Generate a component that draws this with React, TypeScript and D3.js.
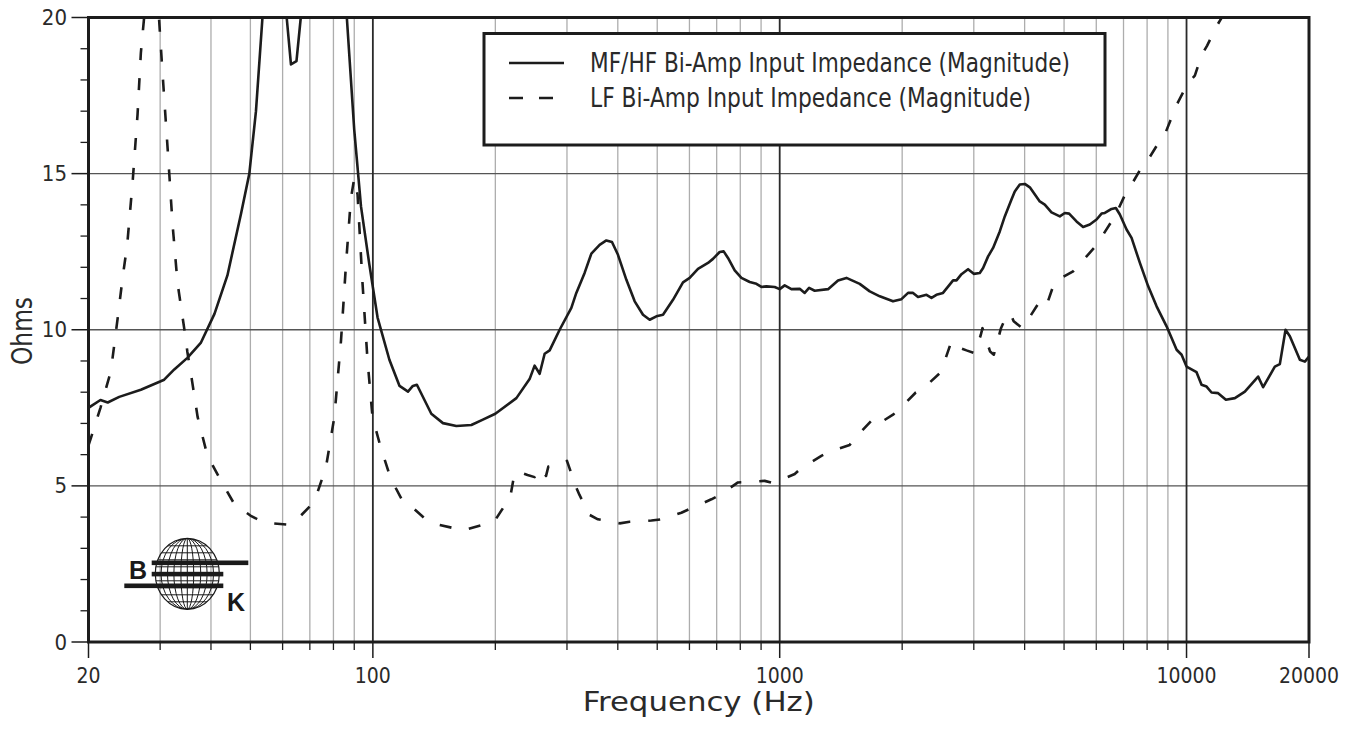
import React from "react";
import * as d3 from "d3";

// ---------- data ----------
const MF_FREQ = [20, 21.4, 22.3, 23.8, 26.9, 30.7, 32.5, 35.0, 37.8, 40.8, 43.9, 47.4, 49.7, 51.6, 53.6, 56, 59, 61.4, 62.9, 64.9, 66.5, 70, 80, 84, 86.3, 90.0, 93.5, 98.0, 102.7, 109.8, 116.3, 122.0, 125.4, 128.3, 139.2, 148.7, 160.4, 174.6, 186.4, 200, 225.3, 242.8, 249.8, 257.0, 264.4, 272.0, 287.8, 307.5, 316.3, 331.5, 344.4, 360.9, 374.9, 387.0, 400.4, 419.9, 440.1, 461.3, 479.1, 497.6, 516.6, 546.7, 578.5, 600.8, 629.7, 666.4, 685.5, 712, 728.3, 746.3, 775.2, 805.1, 843.9, 876.5, 901.7, 927.6, 971.9, 1000, 1028.7, 1068.5, 1120, 1152, 1181, 1219, 1315, 1391, 1459, 1573, 1665, 1762, 1899, 1992, 2068, 2127, 2188, 2295, 2361, 2428, 2520, 2668, 2720, 2798, 2904, 2999, 3103, 3162, 3253, 3346, 3475, 3575, 3713, 3783, 3892, 4004, 4119, 4358, 4483, 4657, 4881, 5021, 5145, 5365, 5569, 5785, 6009, 6182, 6298, 6542, 6704, 6857, 7122, 7327, 7680, 8050, 8442, 8933, 9454, 9725, 10000, 10583, 10886, 11200, 11521, 11959, 12497, 13148, 13912, 14997, 15428, 16484, 16957, 17513, 17947, 18992, 19538, 20000];
const MF_OHMS = [7.5, 7.75, 7.67, 7.85, 8.08, 8.40, 8.73, 9.10, 9.59, 10.51, 11.74, 13.71, 15.0, 17.0, 20.1, 27, 27, 20, 18.5, 18.6, 20, 30, 30, 25, 20, 16.4, 13.95, 12.1, 10.39, 9.04, 8.2, 8.02, 8.2, 8.24, 7.31, 7.01, 6.92, 6.95, 7.12, 7.31, 7.81, 8.42, 8.85, 8.59, 9.23, 9.34, 10.0, 10.7, 11.18, 11.82, 12.44, 12.72, 12.86, 12.81, 12.4, 11.6, 10.91, 10.48, 10.32, 10.43, 10.48, 10.96, 11.52, 11.66, 11.95, 12.14, 12.27, 12.49, 12.51, 12.3, 11.9, 11.66, 11.53, 11.47, 11.37, 11.39, 11.37, 11.3, 11.42, 11.3, 11.31, 11.18, 11.34, 11.25, 11.3, 11.58, 11.66, 11.47, 11.23, 11.07, 10.91, 10.98, 11.18, 11.18, 11.05, 11.12, 11.02, 11.12, 11.18, 11.58, 11.58, 11.78, 11.94, 11.79, 11.82, 11.98, 12.35, 12.62, 13.15, 13.63, 14.17, 14.43, 14.65, 14.67, 14.56, 14.11, 14.01, 13.76, 13.63, 13.74, 13.72, 13.47, 13.29, 13.37, 13.53, 13.72, 13.74, 13.87, 13.9, 13.69, 13.21, 12.94, 12.14, 11.39, 10.75, 10.11, 9.36, 9.2, 8.82, 8.64, 8.24, 8.18, 7.99, 7.97, 7.76, 7.81, 8.02, 8.5, 8.16, 8.82, 8.9, 10.0, 9.79, 9.04, 8.98, 9.14];

const LF_FREQ = [20, 20.26, 21.4, 22.7, 23.6, 24.3, 24.9, 25.7, 26.4, 26.9, 27.4, 28.3, 29.1, 29.8, 30.4, 31.3, 32.2, 33.1, 34.4, 35.0, 36.0, 37.1, 39.2, 42.3, 45.6, 50, 54.1, 61.7, 65.3, 71.8, 76.7, 80.4, 83.5, 85.9, 88.3, 90.0, 91.7, 94.3, 97.0, 99.8, 104.6, 110.7, 118.5, 123.1, 135.3, 140.4, 158.8, 166.4, 188.2, 199.3, 212.8, 218.1, 223.1, 230.4, 240, 249.8, 258.3, 266.5, 270, 284, 298, 300, 315, 322, 341.1, 357.4, 404.3, 427.8, 483.8, 512, 573.3, 600.8, 679.4, 712, 789.7, 828.1, 918.5, 962.7, 1089, 1130, 1266, 1315, 1486, 1538, 1690, 1735, 1899, 1981, 2160, 2259, 2474, 2531, 2643, 2720, 2878, 3017, 3122, 3151, 3290, 3360, 3499, 3575, 3689, 3759, 3950, 4076, 4358, 4525, 4745, 4928, 5262, 5443, 5927, 6122, 6542, 6729, 7093, 7327, 7825, 8092, 8603, 8898, 9309, 9539, 10091, 10481, 10886, 11237, 11854, 12195, 13000];
const LF_OHMS = [6.3, 6.52, 7.5, 8.67, 10.39, 11.74, 12.72, 14.81, 16.9, 18.87, 20, 24, 24, 20, 18.25, 15.8, 13.34, 11.5, 10.02, 9.29, 8.3, 7.2, 5.97, 5.17, 4.43, 4.05, 3.82, 3.76, 3.94, 4.49, 5.6, 7.2, 9.65, 12.1, 14.2, 14.85, 14.33, 11.5, 9.04, 7.2, 6.22, 5.23, 4.5, 4.39, 3.91, 3.8, 3.64, 3.57, 3.77, 3.88, 4.45, 4.71, 5.43, 5.43, 5.35, 5.28, 5.57, 5.32, 5.62, 5.65, 5.75, 5.8, 5.0, 4.71, 4.07, 3.93, 3.8, 3.85, 3.89, 3.93, 4.14, 4.26, 4.57, 4.71, 5.11, 5.12, 5.16, 5.09, 5.38, 5.57, 5.96, 6.07, 6.31, 6.56, 7.12, 6.96, 7.28, 7.49, 7.99, 8.13, 8.61, 8.91, 9.63, 9.46, 9.34, 9.25, 9.84, 10.05, 9.3, 9.2, 10.05, 10.32, 10.53, 10.27, 10.05, 10.32, 10.91, 10.77, 11.55, 11.66, 11.87, 12.08, 12.62, 12.88, 13.47, 13.74, 14.38, 14.65, 15.29, 15.5, 16.06, 16.34, 16.98, 17.3, 17.91, 18.14, 18.79, 19.1, 19.72, 19.99, 21.2];

const X_LABEL_TICKS = [20, 100, 1000, 10000, 20000];
const X_DECADE_LINES = [100, 1000, 10000];
const X_MINOR_LINES = [30, 40, 50, 60, 70, 80, 90, 200, 300, 400, 500, 600, 700, 800, 900, 2000, 3000, 4000, 5000, 6000, 7000, 8000, 9000];
const Y_LABEL_TICKS = [0, 5, 10, 15, 20];
const Y_MINOR_TICKS = [1, 2, 3, 4, 6, 7, 8, 9, 11, 12, 13, 14, 16, 17, 18, 19];
const Y_GRID = [5, 10, 15];

const SERIES_LABELS = [
  "MF/HF Bi-Amp Input Impedance (Magnitude)",
  "LF Bi-Amp Input Impedance (Magnitude)",
];
const X_TITLE = "Frequency (Hz)";
const Y_TITLE = "Ohms";

// ---------- layout ----------
const W = 1355;
const H = 730;
const L = 88.5, R = 1309, T = 17.5, B = 642;
const FONT = "'DejaVu Sans Condensed', 'DejaVu Sans', sans-serif";
const TICK_FONT = "'DejaVu Sans Condensed', 'DejaVu Sans', sans-serif";
const INK = "#1c1c1c";
const TXT = "#2a2a2a";

export default function App() {
  const x = d3.scaleLog().domain([20, 20000]).range([L, R]);
  const y = d3.scaleLinear().domain([0, 20]).range([B, T]);

  const mf = MF_FREQ.map((f, i) => [f, MF_OHMS[i]] as [number, number]);
  const lf = LF_FREQ.map((f, i) => [f, LF_OHMS[i]] as [number, number]);
  const line = d3
    .line<[number, number]>()
    .x((d) => x(d[0]))
    .y((d) => y(d[1]));

  // globe logo geometry
  const gx = 187.3, gy = 573.8, grx = 32, gry = 35.5;
  const meridians = [0.2, 0.42, 0.62, 0.82];
  const lats = [-28, -21, -14, -7, 0, 7, 14, 21, 28];

  return (
    <svg
      width={W}
      height={H}
      style={{ position: "absolute", left: 0, top: 0, background: "#fff" }}
      fontFamily={FONT}
    >
      <defs>
        <clipPath id="plotclip">
          <rect x={L} y={T} width={R - L} height={B - T} />
        </clipPath>
        <clipPath id="globeclip">
          <ellipse cx={gx} cy={gy} rx={grx} ry={gry} />
        </clipPath>
      </defs>
      <rect x={0} y={0} width={W} height={H} fill="#fff" />

      {/* minor vertical grid */}
      {X_MINOR_LINES.map((f) => (
        <line key={"mv" + f} x1={x(f)} x2={x(f)} y1={T} y2={B} stroke="#adadad" strokeWidth={1.3} />
      ))}
      {/* horizontal grid */}
      {Y_GRID.map((v) => (
        <line key={"hg" + v} x1={L} x2={R} y1={y(v)} y2={y(v)} stroke="#555" strokeWidth={1.4} />
      ))}
      {/* decade vertical grid */}
      {X_DECADE_LINES.map((f) => (
        <line key={"dv" + f} x1={x(f)} x2={x(f)} y1={T} y2={B} stroke="#2a2a2a" strokeWidth={1.8} />
      ))}

      {/* logo */}
      <g stroke="#1a1a1a" fill="none">
        <ellipse cx={gx} cy={gy} rx={grx} ry={gry} strokeWidth={1.2} />
        <g clipPath="url(#globeclip)" strokeWidth={1}>
          <line x1={gx} x2={gx} y1={gy - gry} y2={gy + gry} />
          {meridians.map((k) => (
            <ellipse key={"m" + k} cx={gx} cy={gy} rx={grx * k} ry={gry} />
          ))}
          {lats.map((o) => (
            <line key={"l" + o} x1={gx - grx} x2={gx + grx} y1={gy + o} y2={gy + o} />
          ))}
        </g>
      </g>
      <g fill="#1a1a1a">
        <rect x={151.7} y={560.5} width={96.6} height={4.6} />
        <rect x={151.7} y={571.8} width={71.6} height={4.6} />
        <rect x={124.3} y={583.5} width={99} height={4.6} />
        <text x={129} y={578.5} fontFamily="'Liberation Sans', Arial, sans-serif" fontWeight="bold" fontSize={25}>B</text>
        <text x={227} y={610.5} fontFamily="'Liberation Sans', Arial, sans-serif" fontWeight="bold" fontSize={25}>K</text>
      </g>

      {/* curves */}
      <g clipPath="url(#plotclip)" fill="none" stroke={INK} strokeWidth={2.6} strokeLinejoin="round">
        <path d={line(lf) || ""} strokeDasharray="12,18" />
        <path d={line(mf) || ""} />
      </g>

      {/* frame */}
      <rect x={L} y={T} width={R - L} height={B - T} fill="none" stroke={INK} strokeWidth={3} />

      {/* x ticks */}
      {X_MINOR_LINES.map((f) => (
        <line key={"xt" + f} x1={x(f)} x2={x(f)} y1={B} y2={B + 8} stroke={INK} strokeWidth={1.3} />
      ))}
      {X_LABEL_TICKS.map((f) => (
        <g key={"xl" + f}>
          <line x1={x(f)} x2={x(f)} y1={B} y2={B + 16} stroke={INK} strokeWidth={1.5} />
          <text x={x(f)} y={676} textAnchor="middle" dominantBaseline="central" fontSize={21} fill={TXT} fontFamily={TICK_FONT}>
            {f}
          </text>
        </g>
      ))}
      {/* y ticks */}
      {Y_MINOR_TICKS.map((v) => (
        <line key={"yt" + v} x1={L - 8} x2={L} y1={y(v)} y2={y(v)} stroke={INK} strokeWidth={1.3} />
      ))}
      {Y_LABEL_TICKS.map((v) => (
        <g key={"yl" + v}>
          <line x1={L - 17} x2={L} y1={y(v)} y2={y(v)} stroke={INK} strokeWidth={1.5} />
          <text x={67} y={y(v)} textAnchor="end" dominantBaseline="central" fontSize={22} fill={TXT} fontFamily={TICK_FONT}>
            {v}
          </text>
        </g>
      ))}

      {/* axis titles */}
      <text x={(L + R) / 2} y={701} textAnchor="middle" dominantBaseline="central" fontSize={27} fill={TXT} textLength={232} lengthAdjust="spacingAndGlyphs">
        {X_TITLE}
      </text>
      <text
        transform={`translate(22,331) rotate(-90)`}
        textAnchor="middle"
        dominantBaseline="central"
        fontSize={28}
        fill={TXT}
        textLength={68}
        lengthAdjust="spacingAndGlyphs"
      >
        {Y_TITLE}
      </text>

      {/* legend */}
      <rect x={484} y={33.5} width={621} height={111.5} fill="#fff" stroke={INK} strokeWidth={3} />
      <line x1={509} x2={564} y1={63} y2={63} stroke={INK} strokeWidth={2.6} />
      <line x1={509} x2={554} y1={98} y2={98} stroke={INK} strokeWidth={2.6} strokeDasharray="14,16" />
      <text x={590} y={63} dominantBaseline="central" fontSize={26} fill={TXT} textLength={480} lengthAdjust="spacingAndGlyphs">
        {SERIES_LABELS[0]}
      </text>
      <text x={590} y={98} dominantBaseline="central" fontSize={26} fill={TXT} textLength={441} lengthAdjust="spacingAndGlyphs">
        {SERIES_LABELS[1]}
      </text>
    </svg>
  );
}
